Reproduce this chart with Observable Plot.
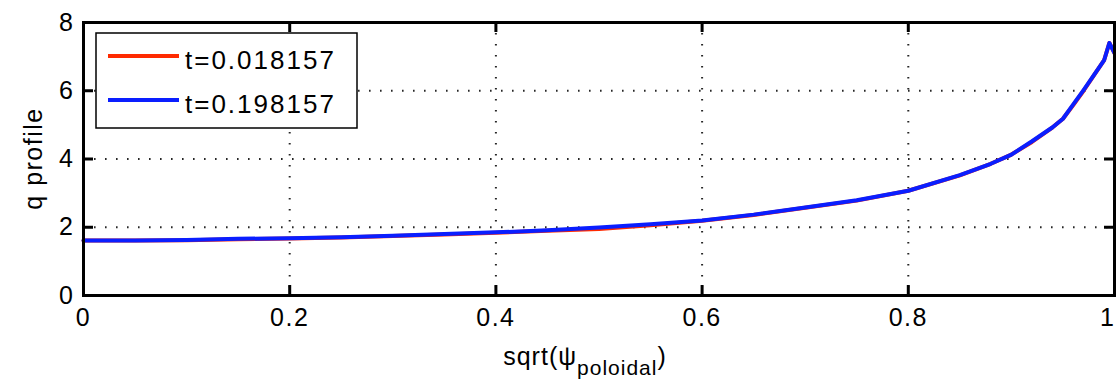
<!DOCTYPE html>
<html>
<head>
<meta charset="utf-8">
<script src="https://cdn.jsdelivr.net/npm/d3@7"></script>
<script src="https://cdn.jsdelivr.net/npm/@observablehq/plot@0.6"></script>
<style>
  html, body { margin: 0; padding: 0; background: #fff; }
  #chart svg { display: block; }
</style>
</head>
<body>
<div id="chart"></div>
<script>
// Data
const psi = [0, 0.05, 0.1, 0.15, 0.2, 0.25, 0.3, 0.35, 0.4, 0.45, 0.5, 0.55, 0.6, 0.65, 0.7, 0.75, 0.8, 0.85, 0.88, 0.9, 0.92, 0.94, 0.95, 0.96, 0.97, 0.98, 0.99, 0.995, 1.0];
const qEarly = [1.61, 1.61, 1.62, 1.65, 1.67, 1.70, 1.74, 1.79, 1.84, 1.90, 1.95, 2.06, 2.19, 2.36, 2.57, 2.78, 3.07, 3.52, 3.86, 4.13, 4.50, 4.93, 5.18, 5.58, 6.00, 6.45, 6.90, 7.40, 7.10];
const qLate  = [1.61, 1.61, 1.63, 1.66, 1.68, 1.71, 1.75, 1.80, 1.85, 1.91, 1.99, 2.09, 2.20, 2.37, 2.58, 2.79, 3.07, 3.53, 3.86, 4.13, 4.52, 4.93, 5.18, 5.60, 6.02, 6.46, 6.90, 7.40, 7.10];
const seriesNames = ["t=0.018157", "t=0.198157"];
const seriesColors = ["#ff2a00", "#0a1eff"];
const xTicks = [0, 0.2, 0.4, 0.6, 0.8, 1];
const yTicks = [0, 2, 4, 6, 8];
const xGrid = [0.2, 0.4, 0.6, 0.8];
const yGrid = [2, 4, 6];

const W = 1116, H = 386;
const mL = 83, mR = 2, mT = 22, mB = 91;
const pw = W - mL - mR, ph = H - mT - mB;
const tickLen = 10;

const early = psi.map((x, i) => ({x, q: qEarly[i]}));
const late = psi.map((x, i) => ({x, q: qLate[i]}));

const plot = Plot.plot({
  width: W, height: H,
  marginLeft: mL, marginRight: mR, marginTop: mT, marginBottom: mB,
  x: {domain: [0, 1]},
  y: {domain: [0, 8]},
  style: {fontFamily: "'Liberation Sans', Arial, sans-serif", fontSize: "25px", background: "#fff", color: "#000"},
  marks: [
    Plot.ruleX(xGrid, {stroke: "#000", strokeWidth: 2, strokeDasharray: "1.6,9.4", strokeOpacity: 0.85}),
    Plot.ruleY(yGrid, {stroke: "#000", strokeWidth: 2, strokeDasharray: "1.6,9.4", strokeOpacity: 0.85}),
    Plot.line(early, {x: "x", y: "q", stroke: seriesColors[0], strokeWidth: 4}),
    Plot.line(late, {x: "x", y: "q", stroke: seriesColors[1], strokeWidth: 4}),
    Plot.ruleX(xTicks, {stroke: "#000", strokeWidth: 3, insetTop: ph - tickLen}),
    Plot.ruleX(xTicks, {stroke: "#000", strokeWidth: 3, insetBottom: ph - tickLen}),
    Plot.ruleY(yTicks, {stroke: "#000", strokeWidth: 3, insetRight: pw - tickLen}),
    Plot.ruleY(yTicks, {stroke: "#000", strokeWidth: 3, insetLeft: pw - tickLen}),
    Plot.frame({stroke: "#000", strokeWidth: 3}),
    Plot.axisX({ticks: xTicks, tickSize: 0, tickPadding: 13, label: null, tickFormat: d => String(d), fontSize: 25}),
    Plot.axisY({ticks: yTicks, tickSize: 0, tickPadding: 9, label: null, tickFormat: d => String(d), fontSize: 25})
  ]
});

document.getElementById("chart").appendChild(plot);
const svg = d3.select(plot);
svg.selectAll("g[aria-label='x-axis tick label'] text, g[aria-label='y-axis tick label'] text")
  .style("letter-spacing", "1.5px");
// keep the last x tick label ("1") inside the picture
svg.selectAll("g[aria-label='x-axis tick label'] text")
  .filter(function () { return this.textContent === "1"; })
  .attr("text-anchor", "end").attr("dx", 1);

// Y axis title
svg.append("text")
  .attr("transform", `translate(42,${mT + ph / 2}) rotate(-90)`)
  .attr("text-anchor", "middle")
  .attr("font-size", 25)
  .attr("letter-spacing", "1.5px")
  .attr("fill", "#000")
  .text("q profile");

// X axis title with subscript
const xt = svg.append("text")
  .attr("x", 585).attr("y", 365)
  .attr("text-anchor", "middle")
  .attr("font-size", 25)
  .attr("letter-spacing", "1px")
  .attr("fill", "#000");
xt.append("tspan").text("sqrt(ψ");
xt.append("tspan").attr("font-size", 21).attr("dy", 10).text("poloidal");
xt.append("tspan").attr("dy", -10).text(")");

// Legend
const lg = svg.append("g").attr("text-anchor", "start");
lg.append("rect").attr("x", 96).attr("y", 33).attr("width", 261).attr("height", 95)
  .attr("fill", "#fff").attr("stroke", "#000").attr("stroke-width", 1.5);
seriesNames.forEach((name, i) => {
  const cy = 56 + i * 44;
  lg.append("line").attr("x1", 108).attr("x2", 179).attr("y1", cy).attr("y2", cy)
    .attr("stroke", seriesColors[i]).attr("stroke-width", 4);
  lg.append("text").attr("x", 185).attr("y", cy + 13).attr("text-anchor", "start")
    .attr("font-size", 26).attr("letter-spacing", "2px").attr("fill", "#000").text(name);
});
</script>
</body>
</html>
